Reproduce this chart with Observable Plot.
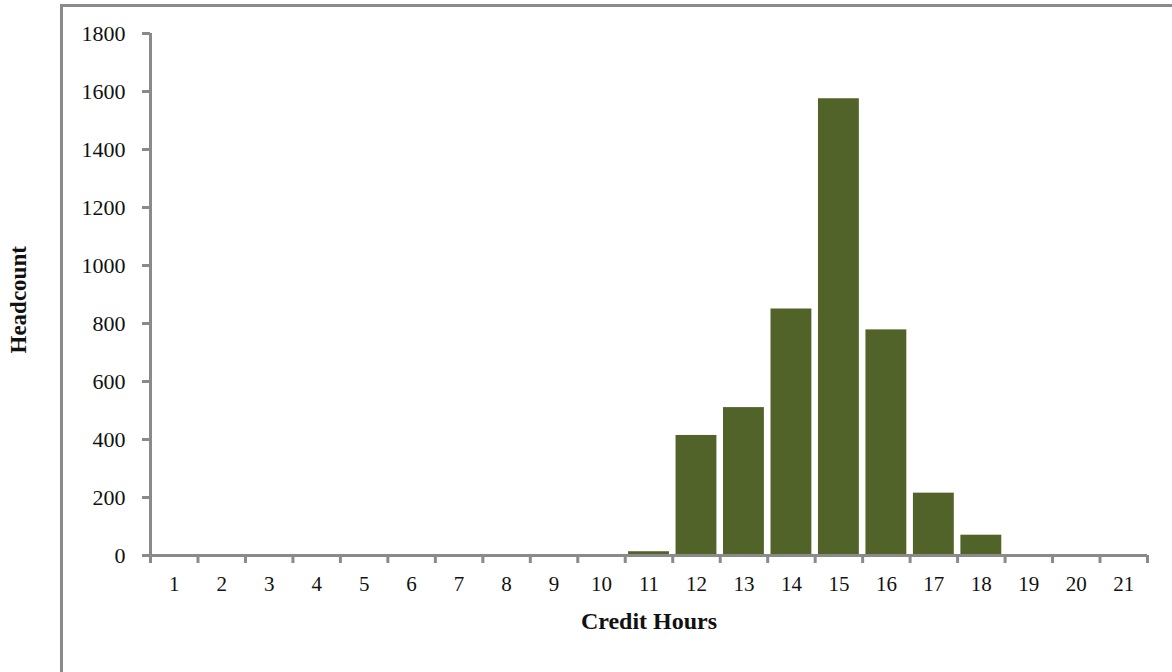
<!DOCTYPE html>
<html>
<head>
<meta charset="utf-8">
<script src="https://cdn.jsdelivr.net/npm/d3@7"></script>
<script src="https://cdn.jsdelivr.net/npm/@observablehq/plot@0.6"></script>
<style>
  html, body { margin: 0; padding: 0; background: #fff; }
  #wrap { position: relative; width: 1172px; height: 672px; overflow: hidden; }
  #frame { position: absolute; left: 60px; top: 4px; right: -20px; bottom: -20px;
           border-left: 3px solid #8a8a8a; border-top: 3px solid #8a8a8a; pointer-events: none; }
  svg { font-family: "Liberation Serif", "DejaVu Serif", serif; }
</style>
</head>
<body>
<div id="wrap"><div id="frame"></div></div>
<script>
const hours = [1,2,3,4,5,6,7,8,9,10,11,12,13,14,15,16,17,18,19,20,21];
const headcount = [0,0,0,0,0,0,0,0,0,0,13,414,510,850,1575,778,215,70,0,0,0];
const yTicks = [0,200,400,600,800,1000,1200,1400,1600,1800];
const xLabel = "Credit Hours";
const yLabel = "Headcount";

const data = hours.map((h, i) => ({h, count: headcount[i]}));
const boundaries = [hours[0] - 0.5, ...hours.map(h => h + 0.5)];
const gray = "#8a8a8a";
const barColor = "#52632a";

const chart = Plot.plot({
  width: 1172,
  height: 672,
  marginLeft: 150,
  marginRight: 25,
  marginTop: 33,
  marginBottom: 117,
  style: {fontFamily: "'Liberation Serif', serif", fontSize: "21px", color: "#111", background: "transparent"},
  x: {type: "linear", domain: [boundaries[0], boundaries[boundaries.length - 1]]},
  y: {domain: [0, 1800]},
  marks: [
    Plot.rectY(data, {x1: d => d.h - 0.5, x2: d => d.h + 0.5, y1: 0, y2: "count", fill: barColor, insetLeft: 3.3, insetRight: 3.3}),
    Plot.axisY(yTicks, {tickSize: 8, tickPadding: 17, tickFormat: d => String(d), stroke: gray, strokeWidth: 3, fill: "#111", label: null, fontSize: 22}),
    Plot.axisX(boundaries, {tickSize: 8, tickFormat: () => "", stroke: gray, strokeWidth: 3, label: null}),
    Plot.axisX(hours, {tickSize: 0, tickPadding: 21, tickFormat: d => String(d), fill: "#111", label: null, fontSize: 21}),
    Plot.ruleX([boundaries[0]], {stroke: gray, strokeWidth: 3}),
    Plot.ruleY([0], {stroke: gray, strokeWidth: 3}),
    Plot.text([xLabel], {frameAnchor: "bottom", dy: 73, fontWeight: "bold", fontSize: 24, fill: "#111"}),
    Plot.text([yLabel], {frameAnchor: "left", dx: -132, dy: 59, rotate: -90, fontWeight: "bold", fontSize: 23, fill: "#111"})
  ]
});
document.getElementById("wrap").prepend(chart);
</script>
</body>
</html>
